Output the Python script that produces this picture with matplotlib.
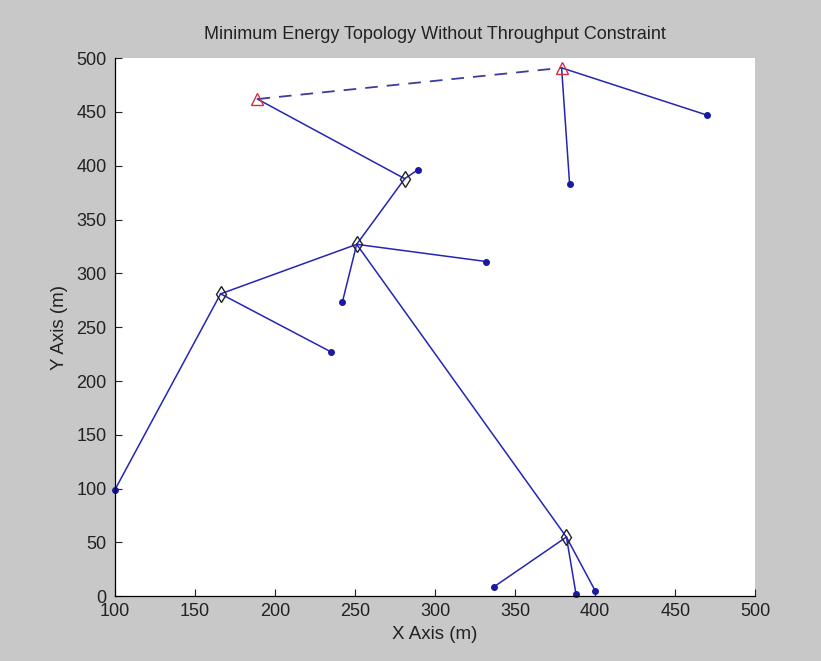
import matplotlib.pyplot as plt

plt.rcParams['font.family'] = ['Liberation Sans', 'DejaVu Sans']

# sink nodes (triangles)
sink_x = [189, 379]
sink_y = [462, 491]

# relay nodes (diamonds)
relay_x = [281, 251, 166, 382]
relay_y = [388, 327, 281, 55]

# leaf sensor nodes (dots)
leaf_x = [470, 384, 289, 332, 242, 235, 100, 337, 388, 400]
leaf_y = [447, 383, 396, 311, 273, 227, 99, 9, 2, 5]

# links as pairs of (x, y) node positions
links = [
    ((379, 491), (470, 447)),
    ((379, 491), (384, 383)),
    ((189, 462), (281, 388)),
    ((281, 388), (289, 396)),
    ((281, 388), (251, 327)),
    ((251, 327), (332, 311)),
    ((251, 327), (242, 273)),
    ((251, 327), (166, 281)),
    ((251, 327), (382, 55)),
    ((166, 281), (235, 227)),
    ((166, 281), (100, 99)),
    ((382, 55), (337, 9)),
    ((382, 55), (388, 2)),
    ((382, 55), (400, 5)),
]
# link between the two sinks
sink_link = ((189, 462), (379, 491))

fig = plt.figure(figsize=(8.21, 6.61), dpi=100, facecolor='#c8c8c8')
ax = fig.add_axes([0.140, 0.098, 0.780, 0.814])
ax.set_facecolor('white')

line_color = '#2525b5'
for (x0, y0), (x1, y1) in links:
    ax.plot([x0, x1], [y0, y1], '-', color=line_color, linewidth=1.1)

(sx0, sy0), (sx1, sy1) = sink_link
ax.plot([sx0, sx1], [sy0, sy1], '--', color='#3c3c9c', linewidth=1.3,
        dashes=(7, 5))

ax.plot(leaf_x, leaf_y, '.', color='#1a1aa0', markersize=8, clip_on=False)
ax.plot(relay_x, relay_y, 'd', markerfacecolor='none', markeredgecolor='#222222',
        markersize=8, markeredgewidth=1.0, clip_on=False)
ax.plot(sink_x, sink_y, '^', markerfacecolor='none', markeredgecolor='#d03040',
        markersize=9, markeredgewidth=1.0, clip_on=False)

ax.set_xlim(100, 500)
ax.set_ylim(0, 500)
ax.set_xticks(range(100, 501, 50))
ax.set_yticks(range(0, 501, 50))
ax.tick_params(direction='in', length=5, width=0.8, labelsize=13, pad=5,
               colors='#222222', top=False, right=False)
ax.tick_params(axis='y', pad=6)
for s in ax.spines.values():
    s.set_linewidth(0.9)
ax.spines['top'].set_visible(False)
ax.spines['right'].set_visible(False)

ax.set_title('Minimum Energy Topology Without Throughput Constraint',
             fontsize=13, pad=14, color='#222222')
ax.set_xlabel('X Axis (m)', fontsize=13.5, labelpad=4, color='#222222')
ax.set_ylabel('Y Axis (m)', fontsize=13.5, labelpad=6, color='#222222')

fig.savefig('out.png', dpi=100, facecolor=fig.get_facecolor())
